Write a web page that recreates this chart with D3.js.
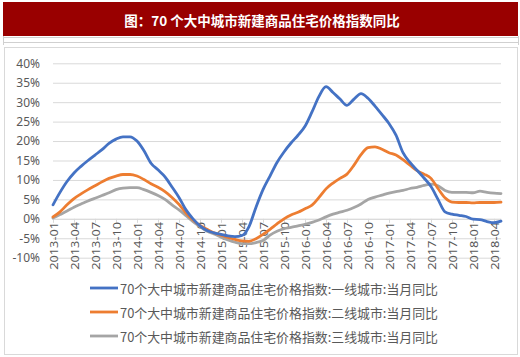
<!DOCTYPE html>
<html>
<head>
<meta charset="utf-8">
<script src="https://cdn.jsdelivr.net/npm/d3@7"></script>
<style>
  html, body { margin: 0; padding: 0; background: #fff; }
  svg { display: block; }
  text { font-family: "Noto Sans CJK SC", "Noto Sans", sans-serif; }
</style>
</head>
<body>
<svg id="chart" width="520" height="357"></svg>
<script>
const titleText = "图：70 个大中城市新建商品住宅价格指数同比";

const months = [
  "2013-01","2013-02","2013-03","2013-04","2013-05","2013-06","2013-07","2013-08","2013-09","2013-10","2013-11","2013-12",
  "2014-01","2014-02","2014-03","2014-04","2014-05","2014-06","2014-07","2014-08","2014-09","2014-10","2014-11","2014-12",
  "2015-01","2015-02","2015-03","2015-04","2015-05","2015-06","2015-07","2015-08","2015-09","2015-10","2015-11","2015-12",
  "2016-01","2016-02","2016-03","2016-04","2016-05","2016-06","2016-07","2016-08","2016-09","2016-10","2016-11","2016-12",
  "2017-01","2017-02","2017-03","2017-04","2017-05","2017-06","2017-07","2017-08","2017-09","2017-10","2017-11","2017-12",
  "2018-01","2018-02","2018-03","2018-04","2018-05"
];

const tickLabels = [
  "2013-01","2013-04","2013-07","2013-10","2014-01","2014-04","2014-07","2014-10",
  "2015-01","2015-04","2015-07","2015-10","2016-01","2016-04","2016-07","2016-10",
  "2017-01","2017-04","2017-07","2017-10","2018-01","2018-04"
];

const yTicks = [-10, -5, 0, 5, 10, 15, 20, 25, 30, 35, 40];

const tier1 = [
  3.6, 6.8, 9.6, 11.8, 13.5, 15.0, 16.4, 17.8, 19.4, 20.5, 21.1, 21.1,
  20.0, 17.5, 14.3, 12.6, 10.8, 8.2, 5.5, 2.3, 0.0, -1.8, -3.0, -3.6,
  -4.0, -4.4, -4.6, -4.3, -2.0, 3.0, 7.5, 11.0, 14.5, 17.2, 19.5, 21.5,
  23.8, 27.5, 31.5, 34.0, 32.5, 30.8, 29.2, 30.8, 32.2, 31.0, 29.0, 26.8,
  24.5, 21.5, 17.0, 14.5, 12.5, 10.5, 8.3, 5.0, 1.8, 1.2, 0.9, 0.6,
  -0.1, -0.2, -0.7, -1.0, -0.6
];

const tier2 = [
  0.5, 1.8, 3.6, 5.2, 6.4, 7.5, 8.5, 9.5, 10.4, 11.0, 11.4, 11.4,
  11.0, 10.1, 9.0, 8.1, 7.0, 5.5, 3.7, 1.5, -0.3, -1.7, -2.7, -3.6,
  -4.2, -4.8, -5.3, -5.7, -5.8, -5.1, -4.0, -2.7, -1.3, 0.0, 1.0, 1.7,
  2.6, 3.5, 5.5, 7.7, 9.2, 10.4, 11.5, 13.8, 16.5, 18.3, 18.5, 17.9,
  17.0, 16.4, 15.2, 13.8, 12.4, 11.5, 10.4, 7.8, 5.4, 4.3, 4.2, 4.2,
  4.1, 4.2, 4.2, 4.2, 4.3
];

const tier3 = [
  0.2, 1.1, 2.0, 3.0, 3.8, 4.6, 5.3, 6.0, 6.7, 7.5, 7.9, 8.0,
  8.0, 7.5, 6.8, 6.0, 5.0, 3.6, 2.3, 0.8, -0.7, -2.0, -3.2, -3.9,
  -4.7, -5.4, -6.0, -6.4, -6.4, -6.1, -5.6, -4.2, -3.2, -2.5, -2.2, -1.8,
  -1.4, -0.9, -0.3, 0.5, 1.2, 1.7, 2.2, 2.9, 3.8, 5.0, 5.6, 6.1,
  6.6, 7.0, 7.3, 7.8, 8.1, 8.6, 8.9, 8.5, 7.3, 6.8, 6.8, 6.8,
  6.7, 7.1, 6.8, 6.6, 6.5
];

const seriesNames = [
  "70个大中城市新建商品住宅价格指数:一线城市:当月同比",
  "70个大中城市新建商品住宅价格指数:二线城市:当月同比",
  "70个大中城市新建商品住宅价格指数:三线城市:当月同比"
];
const seriesColors = ["#4472C4", "#ED7D31", "#A5A5A5"];

const svg = d3.select("#chart");

// title bar
svg.append("rect").attr("x", 3).attr("y", 2).attr("width", 515).attr("height", 34)
  .attr("fill", "#990000");
svg.append("text").attr("x", 262).attr("y", 19.5)
  .attr("text-anchor", "middle").attr("dominant-baseline", "central")
  .attr("fill", "#fff").attr("font-weight", "bold").attr("font-size", 13.5)
  .text(titleText);
svg.append("line").attr("x1", 3).attr("x2", 519).attr("y1", 37.5).attr("y2", 37.5)
  .attr("stroke", "#d0d0d0");
svg.append("line").attr("x1", 3).attr("x2", 519).attr("y1", 42.5).attr("y2", 42.5)
  .attr("stroke", "#d0d0d0");
svg.append("line").attr("x1", 3.5).attr("x2", 3.5).attr("y1", 36).attr("y2", 45)
  .attr("stroke", "#d0d0d0");
svg.append("line").attr("x1", 518.5).attr("x2", 518.5).attr("y1", 36).attr("y2", 45)
  .attr("stroke", "#d0d0d0");

// chart frame
svg.append("rect").attr("x", 4.5).attr("y", 47.5).attr("width", 513).attr("height", 307)
  .attr("fill", "#fff").attr("stroke", "#d9d9d9");

const x = d3.scalePoint().domain(months).range([53, 501]);
const y = d3.scaleLinear().domain([-10, 40]).range([257.7, 63.3]);

// gridlines
const yAxis = d3.axisLeft(y).tickValues(yTicks).tickSize(-(501 - 53)).tickFormat(d => d + "%");
const gy = svg.append("g").attr("transform", "translate(53,0)").call(yAxis);
gy.select(".domain").remove();
gy.selectAll(".tick line").attr("stroke", "#d9d9d9").attr("stroke-width", 1);
gy.selectAll(".tick text").attr("x", -13).attr("fill", "#595959").attr("font-size", 12)
  .style("font-family", "'Noto Sans', sans-serif");

// category axis at 0%
const xAxis = d3.axisBottom(x).tickValues(tickLabels).tickSize(4).tickSizeOuter(0);
const gx = svg.append("g").attr("transform", `translate(0,${y(0)})`).call(xAxis);
gx.select(".domain").attr("stroke", "#d9d9d9");
gx.selectAll(".tick line").attr("stroke", "#d9d9d9");
gx.selectAll(".tick text")
  .attr("transform", "rotate(-90)")
  .attr("x", -3).attr("y", 0).attr("dy", "0.35em")
  .attr("text-anchor", "end")
  .attr("fill", "#595959").attr("font-size", 11.5)
  .attr("textLength", 48).attr("lengthAdjust", "spacingAndGlyphs")
  .style("font-family", "'Noto Sans', sans-serif");

// lines
const line = d3.line()
  .x((d, i) => x(months[i]))
  .y(d => y(d))
  .curve(d3.curveMonotoneX);

const allSeries = [tier1, tier2, tier3];
[2, 1, 0].forEach(k => {
  svg.append("path").datum(allSeries[k])
    .attr("fill", "none").attr("stroke", seriesColors[k])
    .attr("stroke-width", 2.8).attr("stroke-linejoin", "round").attr("stroke-linecap", "round")
    .attr("d", line);
});

// legend
const legendY = [288, 312, 336];
seriesNames.forEach((name, k) => {
  const g = svg.append("g").attr("transform", `translate(90,${legendY[k]})`);
  g.append("line").attr("x1", 0).attr("x2", 28).attr("y1", 0).attr("y2", 0)
    .attr("stroke", seriesColors[k]).attr("stroke-width", 2.8);
  g.append("text").attr("x", 30).attr("y", 0).attr("dominant-baseline", "central")
    .attr("fill", "#595959").attr("font-size", 12.9).text(name);
});
</script>
</body>
</html>
